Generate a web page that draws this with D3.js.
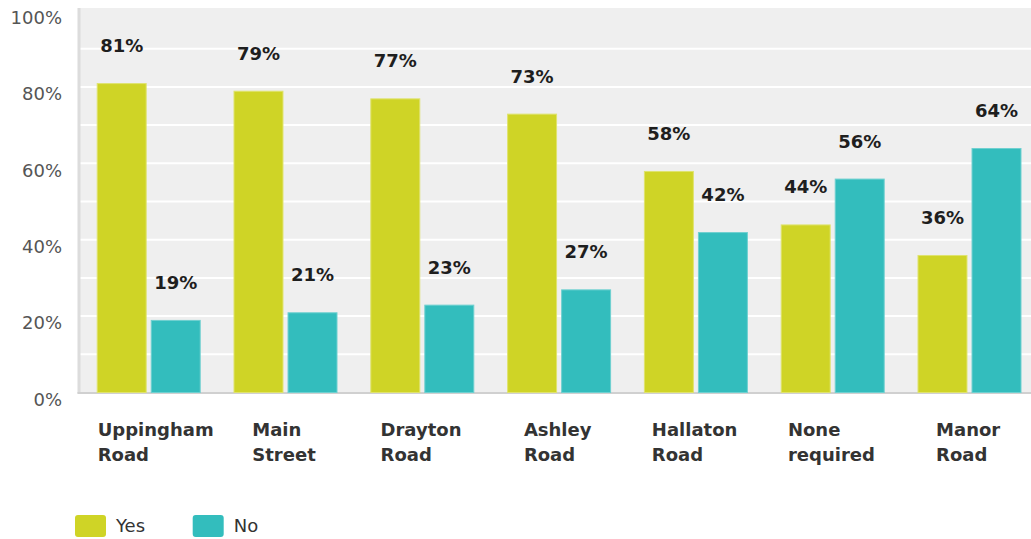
<!DOCTYPE html>
<html>
<head>
<meta charset="utf-8">
<script src="https://cdn.jsdelivr.net/npm/d3@7"></script>
<style>
html,body{margin:0;padding:0;background:#fff;}
svg{display:block;}
</style>
</head>
<body>
<svg id="chart" width="1031" height="539"></svg>
<script>
const categories = [["Uppingham","Road"],["Main","Street"],["Drayton","Road"],["Ashley","Road"],["Hallaton","Road"],["None","required"],["Manor","Road"]];
const seriesNames = ["Yes","No"];
const yesValues = [81,79,77,73,58,44,36];
const noValues = [19,21,23,27,42,56,64];
const yTicks = [0,20,40,60,80,100];
const gridTicks = [10,20,30,40,50,60,70,80,90];
const colors = {Yes:"#cfd426", No:"#33bdbd"};
const strokes = {Yes:"#dfe36e", No:"#6fd0d0"};

(function(){
const svg = d3.select("#chart");
const plotLeft = 79, plotBottom = 392.5, plotTop = 10.5;
const keys = categories.map(c => c.join(" "));
const x = d3.scaleBand().domain(keys).range([plotLeft, plotLeft + 7*136.8]).padding(0);
const xs = d3.scaleBand().domain(seriesNames).range([17.7, 121.7]).paddingInner(0.075).paddingOuter(0);
const y = d3.scaleLinear().domain([0,100]).range([plotBottom, plotTop]);

// plot background
svg.append("rect").attr("x", plotLeft).attr("y", y(100)-2.5).attr("width", 1031-plotLeft).attr("height", plotBottom - y(100) + 2.5).attr("fill", "#efefef");

// gridlines
svg.append("g").selectAll("line").data(gridTicks).join("line")
  .attr("x1", plotLeft).attr("x2", 1031).attr("y1", d => y(d)).attr("y2", d => y(d))
  .attr("stroke", "#ffffff").attr("stroke-width", 2);

// left axis line
svg.append("rect").attr("x", plotLeft-1.5).attr("y", y(100)-2.5).attr("width", 3).attr("height", plotBottom - y(100) + 3.5).attr("fill", "#dcdcdc");
// bottom axis line
svg.append("line").attr("x1", plotLeft-1.5).attr("x2", 1031).attr("y1", plotBottom+0.5).attr("y2", plotBottom+0.5).attr("stroke", "#d0d0d0").attr("stroke-width", 2);

// y tick labels
svg.append("g").selectAll("text").data(yTicks).join("text")
  .attr("x", 62).attr("y", d => y(d) + 7).attr("dy", "0.35em")
  .attr("text-anchor", "end")
  .attr("font-family", "DejaVu Sans").attr("font-size", 18).attr("fill", "#555")
  .text(d => d + "%");

const data = keys.map((k,i) => ({key:k, lines:categories[i], vals:[{s:"Yes", v:yesValues[i]},{s:"No", v:noValues[i]}]}));

const groups = svg.append("g").selectAll("g").data(data).join("g")
  .attr("transform", d => `translate(${x(d.key)},0)`);

groups.selectAll("rect").data(d => d.vals).join("rect")
  .attr("x", d => xs(d.s)+0.5).attr("width", xs.bandwidth()-1)
  .attr("y", d => y(d.v)+0.5).attr("height", d => plotBottom - y(d.v) - 0.5)
  .attr("fill", d => colors[d.s]).attr("stroke", d => strokes[d.s]).attr("stroke-width", 1);

groups.selectAll("text.val").data(d => d.vals).join("text").attr("class","val")
  .attr("x", d => xs(d.s) + xs.bandwidth()/2).attr("y", d => y(d.v) - 31)
  .attr("text-anchor", "middle")
  .attr("font-family", "DejaVu Sans").attr("font-weight", "bold").attr("font-size", 18).attr("fill", "#1e1e1e")
  .text(d => d.v + "%");

// x labels: left-aligned block centered on group, clamped to first bar start
const xl = svg.append("g");
data.forEach(d => {
  const t = xl.append("text").attr("font-family", "DejaVu Sans").attr("font-weight", "bold").attr("font-size", 18).attr("fill", "#333");
  d.lines.forEach((ln, j) => t.append("tspan").attr("x", 0).attr("y", 436 + j*25).text(ln));
  const w = t.node().getBBox().width;
  const cx = x(d.key) + x.bandwidth()/2;
  const x0 = Math.max(cx - w/2, x(d.key) + xs("Yes") + 1);
  t.selectAll("tspan").attr("x", x0);
});

// legend
const lg = svg.append("g").selectAll("g").data(seriesNames).join("g")
  .attr("transform", (d,i) => `translate(${75 + i*117.7},515)`);
lg.append("rect").attr("width", 31).attr("height", 22).attr("rx", 3).attr("fill", d => colors[d]);
lg.append("text").attr("x", 41).attr("y", 11).attr("dy", "0.35em")
  .attr("font-family", "DejaVu Sans").attr("font-size", 18).attr("fill", "#333").text(d => d);
})();
</script>
</body>
</html>
